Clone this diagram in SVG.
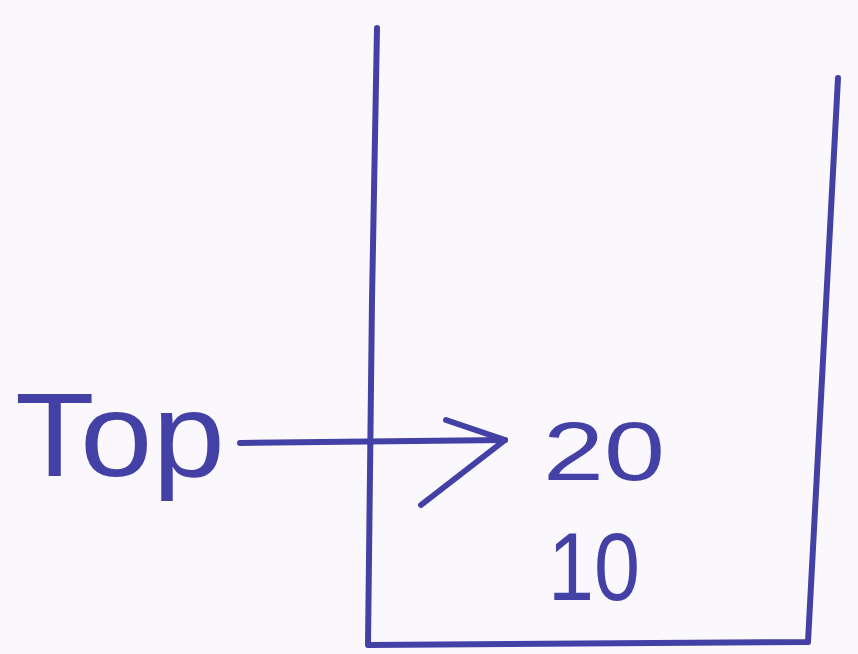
<svg xmlns="http://www.w3.org/2000/svg" width="858" height="654" viewBox="0 0 858 654">
<style>
.ink{fill:none;stroke:#4340a6;stroke-width:6;stroke-linecap:round;stroke-linejoin:round}
.lbl{font-family:"Liberation Sans",Arial,sans-serif;fill:#4340a6}
</style>
<rect width="858" height="654" fill="#fbf8fd"/>
<g id="stack">
<polyline class="ink" points="377,28 372,300 368,645 808,642 838,78"/>
</g>
<g id="label-top">
<text class="lbl" x="15" y="476" font-size="118" textLength="210" lengthAdjust="spacingAndGlyphs">Top</text>
</g>
<g id="item-20">
<text class="lbl" x="543" y="480" font-size="84" textLength="122" lengthAdjust="spacingAndGlyphs">20</text>
</g>
<g id="item-10">
<text class="lbl" x="548" y="600" font-size="96" textLength="92" lengthAdjust="spacingAndGlyphs">10</text>
</g>
<g id="connectors">
<line class="ink" x1="240" y1="443" x2="505" y2="440"/>
<polyline class="ink" points="446,420 505,440 421,505"/>
</g>
</svg>
